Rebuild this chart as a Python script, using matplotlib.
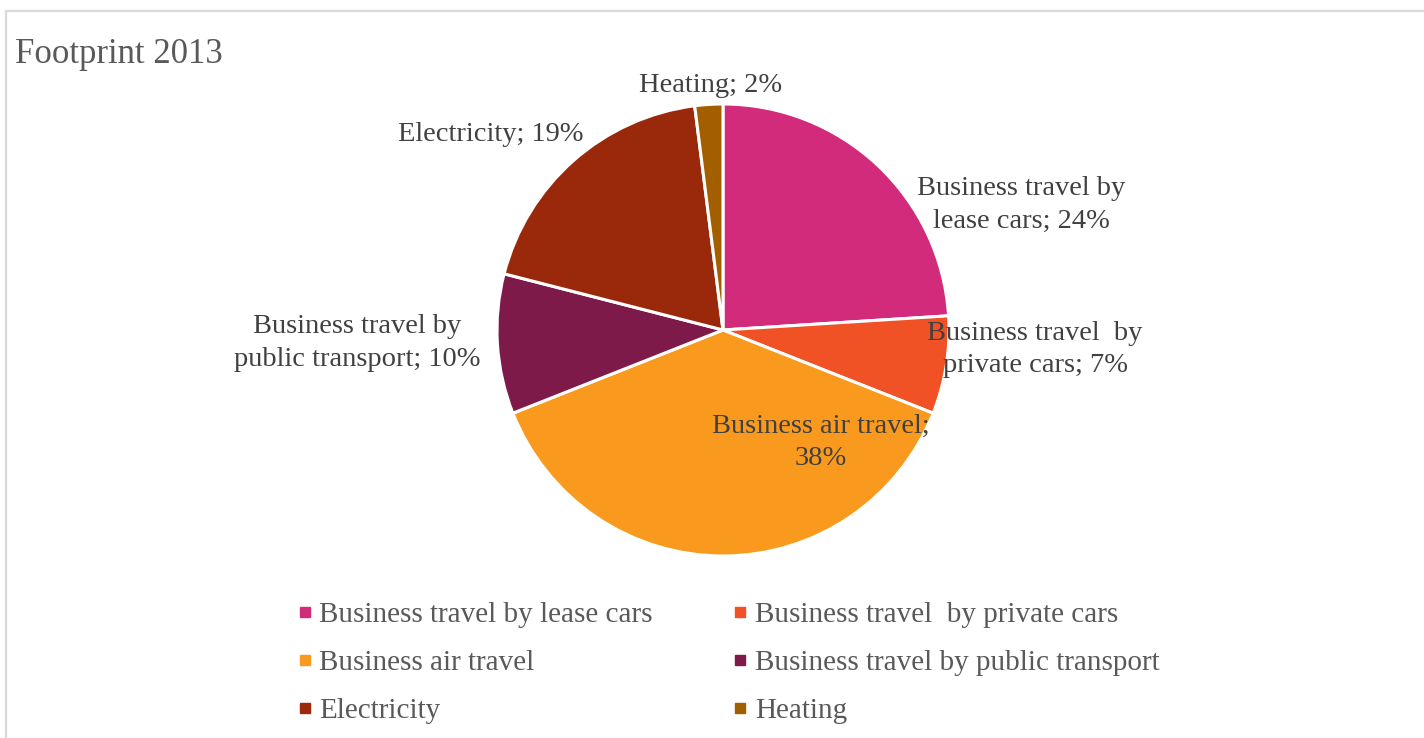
import matplotlib
matplotlib.use("Agg")
import matplotlib.pyplot as plt
from matplotlib.lines import Line2D

title = "Footprint 2013"
categories = [
    "Business travel by lease cars",
    "Business travel  by private cars",
    "Business air travel",
    "Business travel by public transport",
    "Electricity",
    "Heating",
]
shares = [24, 7, 38, 10, 19, 2]
slice_labels = [
    "Business travel by\nlease cars; 24%",
    "Business travel  by\nprivate cars; 7%",
    "Business air travel;\n38%",
    "Business travel by\npublic transport; 10%",
    "Electricity; 19%",
    "Heating; 2%",
]
colors = ["#D32B7B", "#F05125", "#F99A1F", "#7D1A4A", "#9A290C", "#A35E00"]

# label centres, in pie-radius units from the pie centre
label_pos = [(1.319, 0.553), (1.381, -0.086), (0.434, -0.496),
             (-1.619, -0.058), (-1.027, 0.867), (-0.053, 1.084)]

W, H = 1424, 738
cx, cy, r = 723, 330, 226

plt.rcParams["font.family"] = ["Liberation Serif", "DejaVu Serif"]

fig = plt.figure(figsize=(W / 100, H / 100), dpi=100)
ax = fig.add_axes([0, 0, 1, 1])

wedges, _ = ax.pie(shares, colors=colors, startangle=90, counterclock=False,
                   radius=1, center=(0, 0),
                   wedgeprops=dict(edgecolor="white", linewidth=2.2))
ax.set_xlim(-cx / r, (W - cx) / r)
ax.set_ylim(-(H - cy) / r, cy / r)
ax.axis("off")

for text, (x, y) in zip(slice_labels, label_pos):
    ax.text(x, y, text, ha="center", va="center", fontsize=20.5,
            color="#404040", linespacing=1.38)

fig.text(15 / W, 1 - 63 / H, title, ha="left", va="baseline",
         fontsize=25, color="#595959")

# chart frame (top and left edges visible)
frame = dict(color="#d9d9d9", linewidth=1.6, transform=fig.transFigure)
fig.add_artist(Line2D([6 / W, 1], [1 - 10.5 / H, 1 - 10.5 / H], **frame))
fig.add_artist(Line2D([6 / W, 6 / W], [0, 1 - 10.5 / H], **frame))

# legend fills row by row: reorder for matplotlib's column-major layout
handles = [Line2D([], [], marker="s", linestyle="", markersize=7,
                  markerfacecolor=c, markeredgecolor=c) for c in colors]
order = [0, 2, 4, 1, 3, 5]
fig.legend([handles[i] for i in order], [categories[i] for i in order],
           ncol=2, loc="center", bbox_to_anchor=(0.5115, 1 - 663 / H),
           frameon=False, fontsize=21, labelcolor="#595959",
           handlelength=0.5, handletextpad=0.25, columnspacing=2.75,
           labelspacing=0.74)

fig.savefig("out.png", dpi=100)
